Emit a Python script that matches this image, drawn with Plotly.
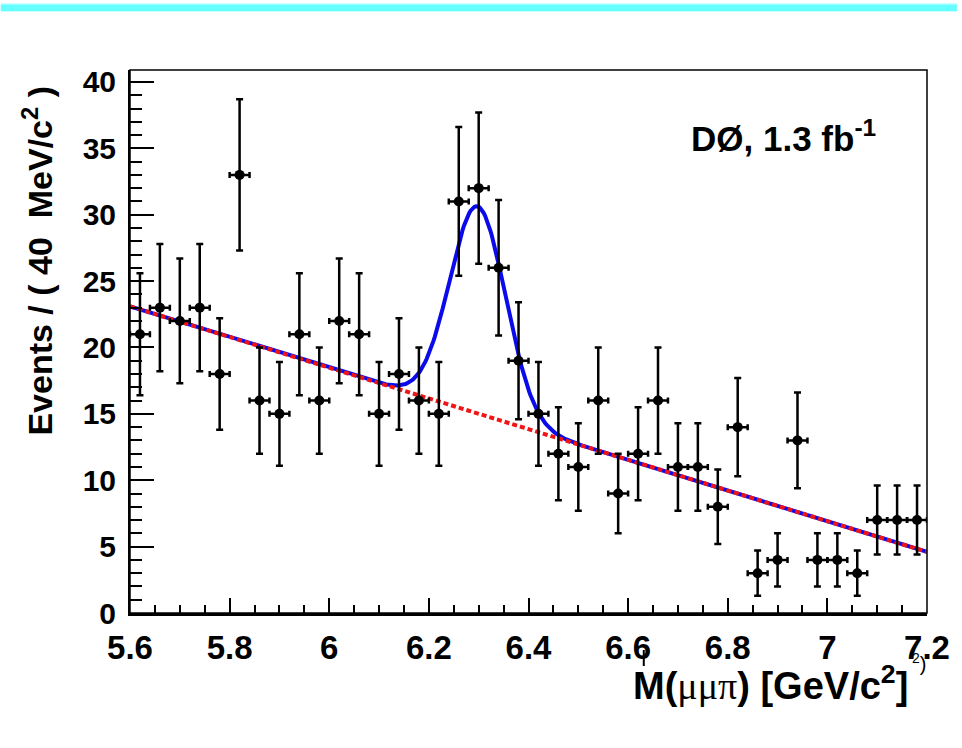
import numpy as np
import plotly.graph_objects as go

# ---- data ----
bin_centers = [5.62, 5.66, 5.70, 5.74, 5.78, 5.82, 5.86, 5.90, 5.94, 5.98,
               6.02, 6.06, 6.10, 6.14, 6.18, 6.22, 6.26, 6.30, 6.34, 6.38,
               6.42, 6.46, 6.50, 6.54, 6.58, 6.62, 6.66, 6.70, 6.74, 6.78,
               6.82, 6.86, 6.90, 6.94, 6.98, 7.02, 7.06, 7.10, 7.14, 7.18]
events = [21, 23, 22, 23, 18, 33, 16, 15, 21, 16,
          22, 21, 15, 18, 16, 15, 31, 32, 26, 19,
          15, 12, 11, 16, 9, 12, 16, 11, 11, 8,
          14, 3, 4, 13, 4, 4, 3, 7, 7, 7]
event_errors = [4.6, 4.8, 4.7, 4.8, 4.2, 5.7, 4.0, 3.9, 4.6, 4.0,
                4.7, 4.6, 3.9, 4.2, 4.0, 3.9, 5.6, 5.7, 5.1, 4.4,
                3.9, 3.5, 3.3, 4.0, 3.0, 3.5, 4.0, 3.3, 3.3, 2.8,
                3.7, 1.7, 2.0, 3.6, 2.0, 2.0, 1.7, 2.6, 2.6, 2.6]
bin_half_width = 0.02

# fit parameters (linear background + gaussian signal)
bkg_at_low = 23.1     # background at 5.6
bkg_at_high = 4.6     # background at 7.2
sig_amp = 15.6
sig_mean = 6.298
sig_sigma = 0.056

x_range = [5.6, 7.2]
y_range = [0, 40.9]
x_tickvals = [5.6, 5.8, 6.0, 6.2, 6.4, 6.6, 6.8, 7.0, 7.2]
x_ticktext = ["5.6", "5.8", "6", "6.2", "6.4", "6.6", "6.8", "7", "7.2"]
y_tickvals = [0, 5, 10, 15, 20, 25, 30, 35, 40]
y_ticktext = ["0", "5", "10", "15", "20", "25", "30", "35", "40"]

# ---- fit curves ----
xf = np.linspace(x_range[0], x_range[1], 600)
bkg = bkg_at_low + (bkg_at_high - bkg_at_low) * (xf - x_range[0]) / (x_range[1] - x_range[0])
total = bkg + sig_amp * np.exp(-0.5 * ((xf - sig_mean) / sig_sigma) ** 2)

FONT = "Liberation Sans, Arial, Helvetica, sans-serif"

fig = go.Figure()
fig.add_trace(go.Scatter(x=xf, y=total, mode="lines",
                         line=dict(color="rgb(10,10,235)", width=4),
                         hoverinfo="skip"))
fig.add_trace(go.Scatter(x=xf, y=bkg, mode="lines",
                         line=dict(color="rgb(240,20,20)", width=4, dash="5px,3px"),
                         hoverinfo="skip"))
fig.add_trace(go.Scatter(
    x=bin_centers, y=events, mode="markers",
    marker=dict(color="black", size=10),
    error_y=dict(type="data", array=event_errors, color="black", thickness=2.5, width=3.5),
    error_x=dict(type="constant", value=bin_half_width, color="black", thickness=2.5, width=3),
))

fig.update_layout(
    width=962, height=748, autosize=False,
    margin=dict(l=130, r=30, t=70, b=135),
    paper_bgcolor="white", plot_bgcolor="white",
    showlegend=False,
    font=dict(family=FONT, color="black"),
)
fig.update_xaxes(
    range=x_range, showgrid=False, zeroline=False,
    showline=True, linecolor="black", linewidth=3,
    tickmode="array", tickvals=x_tickvals, ticktext=x_ticktext,
    ticks="inside", ticklen=15, tickwidth=2, tickcolor="black",
    minor=dict(ticks="inside", ticklen=8, tickwidth=2, tickcolor="black",
               tickmode="linear", tick0=5.6, dtick=0.05),
    tickfont=dict(family=FONT, size=33, weight="bold", color="black"),
    ticklabelstandoff=3,
)
fig.update_yaxes(
    range=y_range, showgrid=False, zeroline=False,
    showline=True, linecolor="black", linewidth=2,
    tickmode="array", tickvals=y_tickvals, ticktext=y_ticktext,
    ticks="inside", ticklen=24, tickwidth=2, tickcolor="black",
    minor=dict(ticks="inside", ticklen=12, tickwidth=2, tickcolor="black",
               tickmode="linear", tick0=0, dtick=1),
    tickfont=dict(family=FONT, size=30, weight="bold", color="black"),
    ticklabelstandoff=6,
)

# frame (top/right)
fig.add_shape(type="rect", xref="paper", yref="paper", x0=0, x1=1, y0=0, y1=1,
              line=dict(color="black", width=1.5), layer="above")
# cyan band at top of the page
fig.add_shape(type="rect", xref="paper", yref="paper",
              x0=-130 / 802, x1=(962 - 130) / 802,
              y0=(613 - 12) / 543, y1=(613 - 3) / 543,
              line=dict(width=0), fillcolor="rgb(200,255,255)")
fig.add_shape(type="rect", xref="paper", yref="paper",
              x0=-130 / 802, x1=(962 - 130) / 802,
              y0=(613 - 11) / 543, y1=(613 - 4.5) / 543,
              line=dict(width=0), fillcolor="rgb(102,255,255)")

# axis titles
fig.add_annotation(
    text="Events / ( 40  MeV/c<sup>2</sup> )", textangle=-90,
    xref="paper", yref="paper", x=(36 - 130) / 802, y=(613 - 261) / 543,
    xanchor="center", yanchor="middle", showarrow=False,
    font=dict(family=FONT, size=34, weight="bold", color="black"),
)
fig.add_annotation(
    text="M(<span style=\"font-family:'Liberation Serif';font-weight:normal\">μμπ</span>) [GeV/c<sup>2</sup>]",
    xref="paper", yref="paper", x=(915 - 130) / 802, y=(613 - 683) / 543,
    xanchor="right", yanchor="middle", showarrow=False,
    font=dict(family=FONT, size=38, weight="bold", color="black"),
)
fig.add_annotation(
    text="DØ, 1.3 fb<sup>-1</sup>",
    xref="paper", yref="paper", x=(693 - 130) / 802, y=(613 - 136) / 543,
    xanchor="left", yanchor="middle", showarrow=False,
    font=dict(family=FONT, size=35, weight="bold", color="black"),
)
# small stray marks present in the reference
fig.add_annotation(
    text="<sup>2</sup>)", xref="paper", yref="paper",
    x=(924 - 130) / 802, y=(613 - 662) / 543,
    xanchor="center", yanchor="middle", showarrow=False,
    font=dict(family=FONT, size=20, color="black"),
)
fig.add_shape(type="line", xref="paper", yref="paper",
              x0=(647 - 130) / 802, x1=(647 - 130) / 802,
              y0=(613 - 650) / 543, y1=(613 - 666) / 543,
              line=dict(color="black", width=2))

fig.write_html("out.html")
